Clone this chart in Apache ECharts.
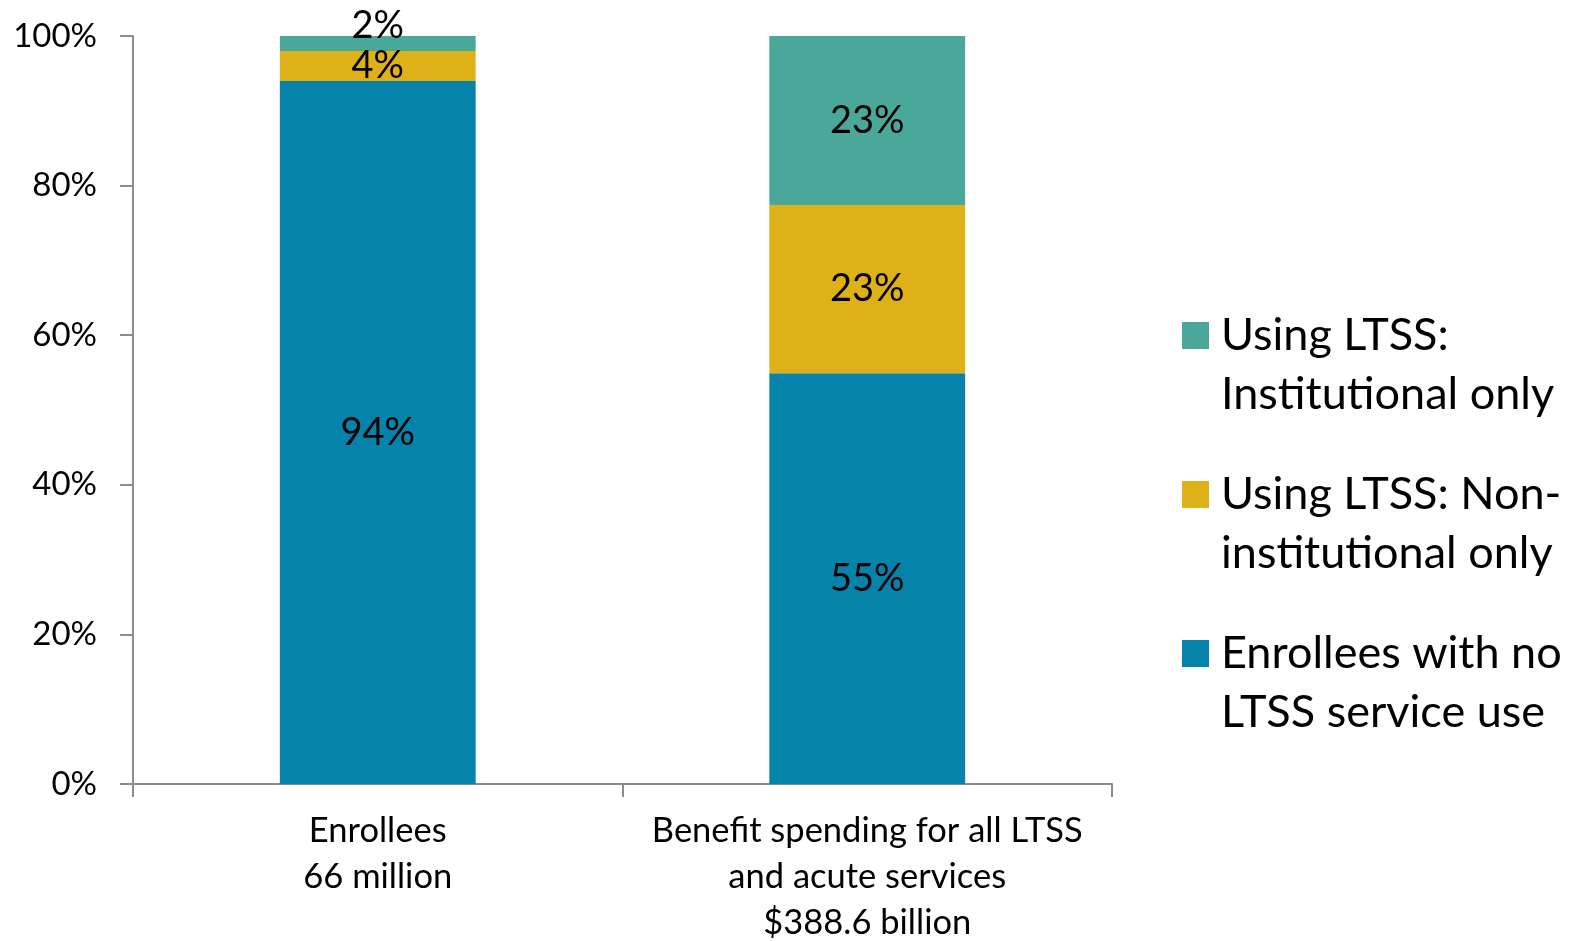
<!DOCTYPE html>
<html><head><meta charset="utf-8">
<script src="https://cdn.jsdelivr.net/npm/echarts@6/dist/echarts.min.js"></script>
<style>html,body{margin:0;padding:0;background:#fff}#c{width:1571px;height:941px}</style>
</head><body><div id="c"></div>
<script>
const categories = ['Enrollees\n66 million', 'Benefit spending for all LTSS\nand acute services\n$388.6 billion'];
const noLtss = [94, 54.9];
const nonInstitutional = [4, 22.5];
const institutional = [2, 22.6];
const yTicks = [0, 20, 40, 60, 80, 100];
const names = ['Enrollees with no LTSS service use', 'Using LTSS: Non-institutional only', 'Using LTSS: Institutional only'];
const legendText = {
  'Using LTSS: Institutional only': ' \nUsing LTSS:\nInstitutional only',
  'Using LTSS: Non-institutional only': ' \nUsing LTSS: Non-\ninstitutional only',
  'Enrollees with no LTSS service use': ' \nEnrollees with no\nLTSS service use'
};
const colors = ['#0583AB', '#DFB119', '#4AA89A'];
const font = 'Lato, "Open Sans", sans-serif';
const chart = echarts.init(document.getElementById('c'));
const label = {
  show: true, position: 'inside', color: '#000', fontSize: 38, fontFamily: font,
  formatter: p => Math.round(p.value) + '%'
};
function mk(name, data, color, i) {
  return {
    name, type: 'bar', stack: 's', barWidth: '40%', data: data.map((v, j) => {
      const d = { value: v };
      if (i === 2 && j === 0) d.label = { offset: [0, -18] };
      return d;
    }),
    itemStyle: { color }, label
  };
}
chart.setOption({
  animation: false,
  grid: { left: 133, right: 459, top: 36, bottom: 157, containLabel: false, outerBoundsMode: 'none' },
  xAxis: {
    type: 'category', data: categories,
    axisLine: { lineStyle: { color: '#8c8c8c', width: 2 } },
    axisTick: { show: true, length: 13, lineStyle: { color: '#8c8c8c', width: 2 } },
    axisLabel: { interval: 0, color: '#000', fontSize: 34.5, fontFamily: font, lineHeight: 46, margin: 24 }
  },
  yAxis: {
    type: 'value', min: 0, max: 100, interval: 20,
    axisLine: { show: true, lineStyle: { color: '#8c8c8c', width: 2 } },
    axisTick: { show: true, length: 13, lineStyle: { color: '#8c8c8c', width: 2 } },
    splitLine: { show: false },
    axisLabel: { color: '#000', fontSize: 33, fontFamily: font, margin: 36,
      formatter: v => yTicks.includes(v) ? v + '%' : '' }
  },
  legend: {
    orient: 'vertical', left: 1182, top: 247, padding: 0, itemGap: -18,
    itemWidth: 27, itemHeight: 27, icon: 'rect',
    data: [names[2], names[1], names[0]],
    formatter: n => legendText[n],
    textStyle: { color: '#000', fontSize: 45, fontFamily: font, lineHeight: 59, padding: [0, 0, 0, 7] }
  },
  series: [
    mk(names[0], noLtss, colors[0], 0),
    mk(names[1], nonInstitutional, colors[1], 1),
    mk(names[2], institutional, colors[2], 2)
  ]
});
</script></body></html>
